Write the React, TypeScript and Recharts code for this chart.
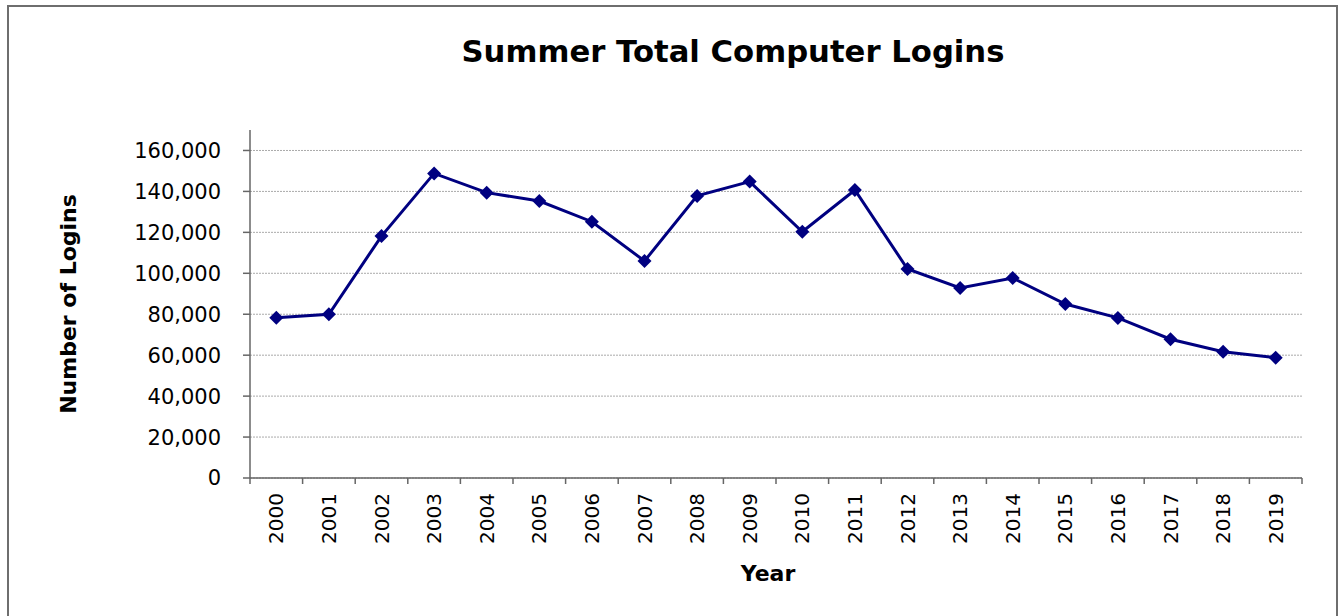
import React from 'react';
import { LineChart, Line, XAxis, YAxis, CartesianGrid } from 'recharts';

const YEARS = ['2000', '2001', '2002', '2003', '2004', '2005', '2006', '2007', '2008', '2009',
  '2010', '2011', '2012', '2013', '2014', '2015', '2016', '2017', '2018', '2019'];
const LOGINS = [78300, 80000, 118200, 148800, 139400, 135300, 125200, 106000, 137800, 144800,
  120300, 140700, 102100, 92800, 97700, 85000, 78200, 67800, 61700, 58800];
const Y_TICKS = [0, 20000, 40000, 60000, 80000, 100000, 120000, 140000, 160000];
const Y_MAX = 170000;

const data = YEARS.map((year, i) => ({ year, logins: LOGINS[i] }));

const FONT = '"DejaVu Sans", Verdana, sans-serif';
const HALF_BAND = 1052 / YEARS.length / 2;

// rotated year labels, tick marks sit between categories like Excel
const YearTick = (props: any) => {
  const { x, y, payload, index } = props;
  return (
    <g>
      <line x1={x - HALF_BAND} x2={x - HALF_BAND} y1={y} y2={y + 6} stroke="#666" strokeWidth={1.5} />
      {index === YEARS.length - 1 && (
        <line x1={x + HALF_BAND} x2={x + HALF_BAND} y1={y} y2={y + 6} stroke="#666" strokeWidth={1.5} />
      )}
      <text
        x={x}
        y={y + 15}
        transform={`rotate(-90, ${x}, ${y + 15})`}
        textAnchor="end"
        dy="0.36em"
        fontSize={20}
        fontFamily={FONT}
        fill="#000"
      >
        {payload.value}
      </text>
    </g>
  );
};

const Diamond = (props: any) => {
  const { cx, cy } = props;
  if (cx == null || cy == null) return null;
  const r = 7;
  return <path d={`M${cx},${cy - r}L${cx + r},${cy}L${cx},${cy + r}L${cx - r},${cy}Z`} fill="#000080" />;
};

const YTitle = (props: any) => {
  const { viewBox } = props;
  const cy = viewBox.y + viewBox.height / 2;
  return (
    <text x={76} y={cy} transform={`rotate(-90, 76, ${cy})`} textAnchor="middle"
      fontSize={22} fontWeight="bold" fontFamily={FONT} fill="#000">
      Number of Logins
    </text>
  );
};

const XTitle = () => (
  <text x={768} y={581} textAnchor="middle" fontSize={22} fontWeight="bold" fontFamily={FONT} fill="#000">
    Year
  </text>
);

// only grid lines at the labelled ticks, not at the axis top (170,000)
const gridRows = ({ yAxis, offset }: any) => {
  if (yAxis && typeof yAxis.scale === 'function') return Y_TICKS.map((t) => yAxis.scale(t));
  return Y_TICKS.map((t) => offset.top + offset.height * (1 - t / Y_MAX));
};

export default function App() {
  return (
    <div style={{ position: 'absolute', left: 0, top: 0, width: 1338, height: 616, background: '#fff', overflow: 'hidden' }}>
      <div style={{ position: 'absolute', left: 7, top: 5, width: 1331, height: 640, border: '2px solid #6e6e6e', boxSizing: 'border-box' }} />
      <div style={{ position: 'absolute', left: 333, top: 37, width: 800, textAlign: 'center', fontFamily: FONT, fontWeight: 'bold', fontSize: 30.7, lineHeight: '30px', color: '#000' }}>
        Summer Total Computer Logins
      </div>
      <LineChart width={1338} height={616} data={data} margin={{ top: 130, right: 36, bottom: 0, left: 0 }} style={{ position: 'absolute', left: 0, top: 0 }}>
        <CartesianGrid vertical={false} stroke="#aaa" strokeDasharray="2 1" horizontalCoordinatesGenerator={gridRows} />
        <XAxis
          dataKey="year"
          height={138}
          padding={{ left: HALF_BAND, right: HALF_BAND }}
          interval={0}
          tickLine={false}
          tickSize={0}
          tickMargin={0}
          tick={<YearTick />}
          axisLine={{ stroke: '#666', strokeWidth: 1.5 }}
          label={<XTitle />}
        />
        <YAxis
          width={250}
          domain={[0, Y_MAX]}
          ticks={Y_TICKS}
          interval={0}
          tickSize={7}
          tickMargin={22}
          tickLine={{ stroke: '#666', strokeWidth: 1.5 }}
          axisLine={{ stroke: '#666', strokeWidth: 1.5 }}
          tick={{ fontSize: 21, fontFamily: FONT, fill: '#000' }}
          tickFormatter={(v: number) => v.toLocaleString('en-US')}
          label={<YTitle />}
        />
        <Line
          type="linear"
          dataKey="logins"
          stroke="#000080"
          strokeWidth={3}
          dot={<Diamond />}
          activeDot={false}
          isAnimationActive={false}
        />
      </LineChart>
    </div>
  );
}
